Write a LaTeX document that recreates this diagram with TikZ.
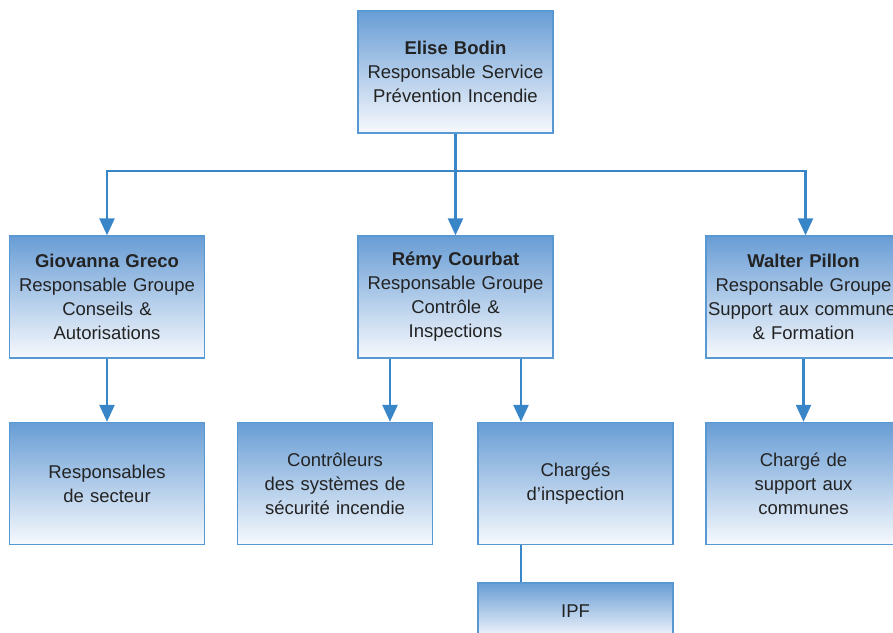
\documentclass[tikz,border=0pt]{standalone}
\usepackage{fontspec}
\setmainfont{Liberation Sans}
\usepackage{tikz}
\usetikzlibrary{arrows.meta}

\definecolor{boxtop}{RGB}{104,157,213}
\definecolor{boxbot}{RGB}{247,249,253}
\definecolor{boxline}{RGB}{88,153,212}
\definecolor{linkblue}{RGB}{56,134,200}
\definecolor{txt}{RGB}{35,35,35}

\tikzset{
	orgbox/.style={rectangle, draw=boxline, line width=1.4pt, top color=boxtop, bottom color=boxbot,
		inner xsep=2pt, text width=191pt, minimum height=122pt, align=center, text=txt,
		font=\fontsize{18.5}{24}\selectfont},
	link/.style={draw=linkblue, line width=2.6pt},
	linkarr/.style={link, -{Triangle[length=17pt,width=15pt]}}
}

\begin{document}
\begin{tikzpicture}[x=1pt,y=-1pt]
	
	\useasboundingbox (0,0) rectangle (893,632);
	
	\node[orgbox] (bodin) at (455.5,72) {\textbf{Elise Bodin}\\Responsable Service\\Prévention Incendie};
	
	\node[orgbox] (greco) at (107,297) {\textbf{Giovanna Greco}\\Responsable Groupe\\Conseils \&\\Autorisations};
	\node[orgbox] (courbat) at (455.5,297) {\textbf{Rémy Courbat}\\Responsable Groupe\\Contrôle \&\\Inspections};
	\node[orgbox] (pillon) at (803.5,297) {\textbf{Walter Pillon}\\Responsable Groupe\\\mbox{Support aux communes}\\\& Formation};
	
	\node[orgbox] (secteur) at (107,483.5) {Responsables\\de secteur};
	\node[orgbox] (controleurs) at (335,483.5) {Contrôleurs\\des systèmes de\\sécurité incendie};
	\node[orgbox] (charges) at (575.5,483.5) {Chargés\\d’inspection};
	\node[orgbox] (support) at (803.5,483.5) {Chargé de\\support aux\\communes};
	
	\node[orgbox, minimum height=56pt] (ipf) at (575.5,611) {IPF};
	
	\coordinate (split) at (455.5,171);
	\draw[link] (bodin.south) -- (split);
	\draw[linkarr] (split) -| (greco.north);
	\draw[linkarr] (split) -- (courbat.north);
	\draw[linkarr] (split) -| ([xshift=2pt]pillon.north);
	
	\draw[linkarr] (greco.south) -- (secteur.north);
	\draw[linkarr] ([xshift=-65.5pt]courbat.south) -- ([xshift=-65.5pt]courbat.south |- controleurs.north);
	\draw[linkarr] ([xshift=65.5pt]courbat.south) -- ([xshift=65.5pt]courbat.south |- charges.north);
	\draw[linkarr] (pillon.south) -- (support.north);
	\draw[link] ([xshift=-54.5pt]charges.south) -- ([xshift=-54.5pt]ipf.north);
	
\end{tikzpicture}
\end{document}
